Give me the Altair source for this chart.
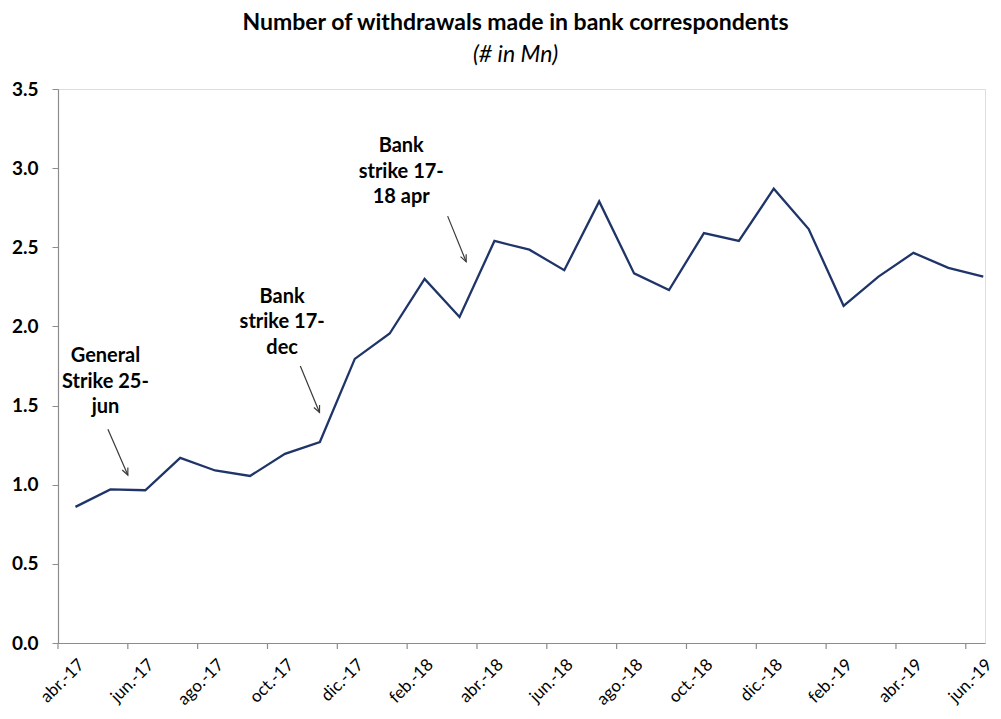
import altair as alt
import pandas as pd

# ---- data ----
months = ["abr.-17", "may.-17", "jun.-17", "jul.-17", "ago.-17", "sep.-17", "oct.-17",
          "nov.-17", "dic.-17", "ene.-18", "feb.-18", "mar.-18", "abr.-18", "may.-18",
          "jun.-18", "jul.-18", "ago.-18", "sep.-18", "oct.-18", "nov.-18", "dic.-18",
          "ene.-19", "feb.-19", "mar.-19", "abr.-19", "may.-19", "jun.-19"]
withdrawals = [0.86, 0.97, 0.965, 1.17, 1.09, 1.055, 1.195, 1.27, 1.795, 1.955, 2.30, 2.06,
               2.54, 2.485, 2.355, 2.79, 2.335, 2.23, 2.59, 2.54, 2.87, 2.615, 2.13, 2.315,
               2.465, 2.37, 2.315]

label_idx = list(range(0, len(months), 2))          # labelled months
tick_pos = [i - 0.5 for i in label_idx]             # tick marks on category boundaries

ann_text = ["General\nStrike 25-\njun", "Bank\nstrike 17-\ndec", "Bank\nstrike 17-\n18 apr"]
ann_x = [0.86, 5.92, 9.33]
ann_y = [1.876, 2.252, 3.203]

arrow_x = [0.93, 6.44, 10.66]
arrow_y = [1.350, 1.750, 2.697]
arrow_x2 = [1.50, 6.99, 11.19]
arrow_y2 = [1.061, 1.456, 2.409]

# ---- tables ----
df = pd.DataFrame({"idx": list(range(len(months))), "month": months, "value": withdrawals})
ticks_df = pd.DataFrame({"pos": tick_pos})
ann_df = pd.DataFrame({"x": ann_x, "y": ann_y, "text": ann_text})
arr_df = pd.DataFrame({"x": arrow_x, "y": arrow_y, "x2": arrow_x2, "y2": arrow_y2})

W, H = 927, 554
FONT = "Lato"
AXIS_GRAY = "#8c8c8c"

label_expr = "[" + ",".join("'" + m + "'" for m in months) + "][datum.value]"

xscale = alt.Scale(domain=[-0.5, 26.05], nice=False, zero=False)
yscale = alt.Scale(domain=[0, 3.5], nice=False)

x_axis = alt.Axis(values=label_idx, labelExpr=label_expr, labelAngle=-45, ticks=False,
                  domainColor=AXIS_GRAY, domainWidth=1.2, labelFont=FONT, labelFontSize=17,
                  labelColor="#000000", labelAlign="right", labelBaseline="top",
                  labelPadding=13, labelFlush=False, labelOverlap=False, grid=False, title=None)
y_axis = alt.Axis(values=[0, 0.5, 1.0, 1.5, 2.0, 2.5, 3.0, 3.5], format=".1f",
                  domainColor=AXIS_GRAY, domainWidth=1.2, tickColor=AXIS_GRAY, tickSize=6,
                  labelFont=FONT, labelFontSize=19, labelFontWeight="bold",
                  labelColor="#000000", labelPadding=14, grid=False, title=None)

line = alt.Chart(df).mark_line(color="#1F3468", strokeWidth=2.3).encode(
    x=alt.X("idx:Q", scale=xscale, axis=x_axis),
    y=alt.Y("value:Q", scale=yscale, axis=y_axis),
)

xticks = alt.Chart(ticks_df).mark_rule(color=AXIS_GRAY, strokeWidth=1.2).encode(
    x=alt.X("pos:Q", scale=xscale),
    y=alt.value(H),
    y2=alt.value(H + 6),
)

texts = alt.Chart(ann_df).mark_text(font=FONT, fontSize=20, fontWeight="bold", color="#000000",
                                    align="center", baseline="top", lineBreak="\n",
                                    lineHeight=25.7).encode(
    x=alt.X("x:Q", scale=xscale),
    y=alt.Y("y:Q", scale=yscale),
    text="text:N",
)

arrows = alt.Chart(arr_df).mark_rule(color="#3a3a3a", strokeWidth=1.2).encode(
    x=alt.X("x:Q", scale=xscale), y=alt.Y("y:Q", scale=yscale),
    x2="x2:Q", y2="y2:Q",
)

heads = alt.Chart(arr_df).mark_point(shape="M-0.45,-1L0,0L0.45,-1", filled=False,
                                     color="#3a3a3a", strokeWidth=1.2, size=190, angle=336,
                                     opacity=1).encode(
    x=alt.X("x2:Q", scale=xscale), y=alt.Y("y2:Q", scale=yscale),
)

chart = alt.layer(line, xticks, arrows, heads, texts).properties(
    width=W, height=H,
    title=alt.TitleParams(
        text="Number of withdrawals made in bank correspondents",
        subtitle="(# in Mn)",
        anchor="middle", dx=-6, offset=13,
        font=FONT, fontSize=23, fontWeight="bold", color="#000000",
        subtitleFont=FONT, subtitleFontSize=23, subtitleFontStyle="italic",
        subtitleColor="#000000", subtitlePadding=9,
    ),
    autosize=alt.AutoSizeParams(type="none"),
    padding={"left": 50, "top": 81, "right": 8, "bottom": 66},
).configure_view(stroke=None).configure(background="white")

chart.save("out.html", embed_options={"renderer": "svg", "actions": False})
